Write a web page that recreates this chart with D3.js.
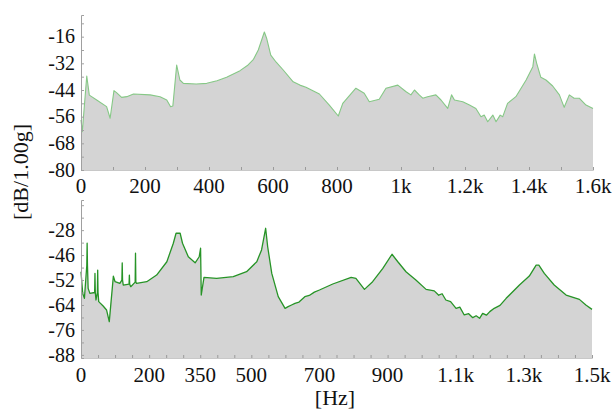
<!DOCTYPE html>
<html><head><meta charset="utf-8">
<script src="https://cdn.jsdelivr.net/npm/d3@7"></script>
<style>body{margin:0;background:#fff}svg{display:block}</style>
</head><body>
<svg id="c" width="612" height="410"></svg>
<script>
// top spectrum
const topFreq = [0,4,18,26,49,80,91,103,111,127,143,164,216,247,268,280,287,299,309,320,360,393,425,455,497,520,539,554,573,580,593,610,632,663,684,703,745,776,804,818,859,885,901,932,953,990,1016,1031,1042,1057,1068,1083,1109,1125,1146,1158,1167,1193,1214,1234,1250,1260,1271,1287,1297,1310,1318,1333,1359,1391,1412,1417,1424,1437,1453,1474,1495,1510,1526,1541,1557,1578,1600];
const topDb = [-57.5,-62.8,-37.7,-46.3,-48.5,-51.5,-56.7,-44.3,-45.2,-47.3,-47,-45.8,-46.2,-47,-48.5,-51.5,-51.2,-32.8,-39.5,-41,-41.3,-41,-39.8,-38.3,-35.3,-33,-30.2,-26,-17.9,-20.7,-28.3,-31.5,-35,-40.3,-41.8,-42.8,-45.8,-50.8,-55.7,-50,-43.2,-45.5,-49.3,-48.2,-43.2,-41.8,-44.8,-46.2,-44,-46.2,-47.7,-47,-46.2,-48.5,-52.3,-46.2,-48.5,-49.3,-50.8,-52.3,-56,-55.3,-58.3,-55.3,-58.3,-55.3,-56,-50,-47,-39.5,-33.5,-27.8,-32,-38.3,-39.5,-42.2,-46.2,-51.8,-46.2,-47.7,-47.7,-50.8,-52.3];
// bottom spectrum
const botFreq = [0,5,10,17,18,19,21,26,40,41,42,44,48,49,50,52,65,75,83,95,100,114,120,121,122,124,141,142,143,146,159,160,161,163,193,222,252,271,279,291,298,315,335,347,351,353,361,398,447,486,516,530,542,548,560,579,599,608,618,628,640,657,670,685,700,739,793,807,832,856,886,913,930,954,983,1013,1037,1050,1060,1071,1085,1101,1112,1125,1138,1150,1160,1170,1179,1190,1200,1213,1230,1248,1287,1316,1336,1344,1360,1389,1424,1463,1482,1500];
const botDb = [-48,-58.4,-60.8,-45,-34.3,-45,-56,-58.4,-58,-48.8,-58,-61.6,-58,-47.2,-58,-62.4,-64.5,-66.4,-72,-50.1,-52.8,-53.6,-52,-43.7,-52,-54.4,-54,-49.6,-54,-55.2,-53,-39.1,-53,-53.6,-52.8,-49.6,-43.2,-34.3,-29.5,-29.5,-34.3,-40.8,-43.7,-40.8,-36.7,-59.2,-50.7,-51.2,-50.4,-48,-43.2,-37.5,-27.1,-36,-48.8,-60,-65.6,-64.8,-64,-63.2,-62.6,-60,-59.4,-57.8,-56.8,-53.9,-50.7,-51.2,-56.5,-52.8,-46.4,-39.6,-43.2,-48,-52,-56.5,-57.2,-59.3,-58.6,-61.6,-62.4,-65.6,-65,-68.8,-68.2,-70.1,-69.2,-70.4,-68,-68.9,-67.2,-65.6,-64.2,-60.8,-54.4,-50.1,-44.8,-44.8,-48.8,-54.4,-59.2,-61.3,-64,-66.1];

const topXTicks = [0,200,400,600,800,1000,1200,1400,1600];
const topXLabels = ["0","200","400","600","800","1k","1.2k","1.4k","1.6k"];
const topYTicks = [-80,-68,-56,-44,-32,-20];
const topYLabels = ["-80","-68","-56","-44","-32","-16"];
const botXTicks = [0,200,350,500,700,900,1100,1300,1500];
const botXLabels = ["0","200","350","500","700","900","1.1k","1.3k","1.5k"];
const botYTicks = [-88,-76,-64,-52,-40,-28];
const botYLabels = ["-88","-76","-64","-52","-46","-28"];

const FONT = "Liberation Serif";
const svg = d3.select("#c");

function panel(o){
  const x = d3.scaleLinear().domain(o.xDom).range([81, o.right]);
  const y = d3.scaleLinear().domain(o.yDom).range([o.bottom, o.top]);
  const g = svg.append("g");
  const data = o.freq.map((f,i)=>({f, v:o.db[i]}));
  g.append("path").datum(data)
    .attr("d", d3.area().x(d=>x(d.f)).y0(o.bottom).y1(d=>y(d.v)))
    .attr("fill", "#d4d4d4");
  g.append("path").datum(data)
    .attr("d", d3.line().x(d=>x(d.f)).y(d=>y(d.v)))
    .attr("fill","none").attr("stroke", o.stroke).attr("stroke-width", o.sw).attr("stroke-linejoin","round");
  // minor x ticks
  g.append("g").attr("transform",`translate(0,${o.bottom})`)
    .call(d3.axisTop(x).tickValues(d3.range(o.xDom[0], o.xDom[1]+1, o.minorX)).tickSize(3).tickFormat(""))
    .call(a=>a.select(".domain").attr("stroke","#c8c8c8"))
    .call(a=>a.selectAll("line").attr("stroke","#9a9a9a"));
  // minor y ticks + axis line
  g.append("g").attr("transform","translate(81,0)")
    .call(d3.axisRight(y).tickValues(d3.range(o.yTicks[0], o.yDom[1], 6)).tickSize(3).tickFormat(""))
    .call(a=>a.select(".domain").attr("stroke","#a0a0a0"))
    .call(a=>a.selectAll("line").attr("stroke","#a0a0a0"));
  // x labels
  g.append("g").selectAll("text").data(o.xTicks).join("text")
    .attr("x", d=>x(d)).attr("y", o.bottom + o.xBase)
    .attr("text-anchor","middle").attr("fill","#111")
    .style("font-family", FONT).style("font-size","21px")
    .text((d,i)=>o.xLabels[i]);
  // y labels
  g.append("g").selectAll("text").data(o.yTicks).join("text")
    .attr("x", 75).attr("y", d=>y(d)).attr("dy","0.34em")
    .attr("text-anchor","end").attr("fill","#111")
    .style("font-family", FONT).style("font-size","20px")
    .text((d,i)=>o.yLabels[i]);
}

panel({xDom:[0,1600], right:593, yDom:[-80,-10.25], top:15, bottom:170,
  freq:topFreq, db:topDb, stroke:"#86c886", sw:1.1, minorX:100,
  xTicks:topXTicks, xLabels:topXLabels, yTicks:topYTicks, yLabels:topYLabels, xBase:23});
panel({xDom:[0,1500], right:592, yDom:[-89.5,-13.5], top:200, bottom:358,
  freq:botFreq, db:botDb, stroke:"#279427", sw:1.3, minorX:50,
  xTicks:botXTicks, xLabels:botXLabels, yTicks:botYTicks, yLabels:botYLabels, xBase:24});

svg.append("text").attr("transform","translate(28,172) rotate(-90)")
  .style("font-family", FONT).style("font-size","22px").attr("text-anchor","middle").attr("fill","#111").text("[dB/1.00g]");
svg.append("text").attr("x",335).attr("y",405).style("font-family", FONT).style("font-size","22px")
  .attr("text-anchor","middle").attr("fill","#111").text("[Hz]");
</script>
</body></html>
